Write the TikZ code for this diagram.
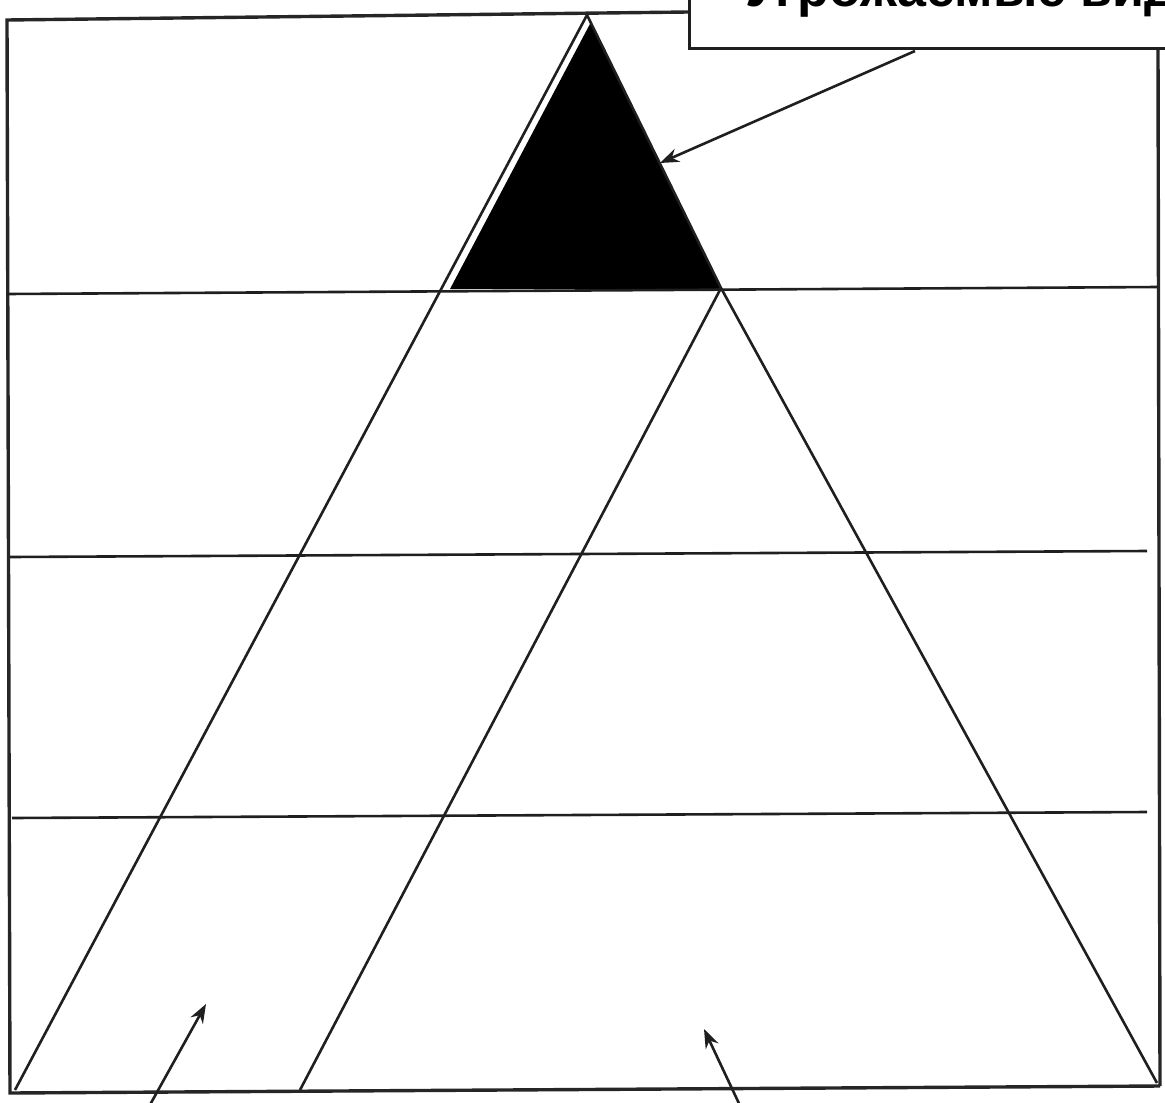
\documentclass[tikz,border=0pt]{standalone}
\usepackage{fontspec}
\newfontfamily\labfont{Liberation Sans}
\usetikzlibrary{arrows.meta}
\begin{document}
\begin{tikzpicture}[x=1pt,y=-1pt,
  framel/.style={line width=3.4pt, draw=black!85},
  gridl/.style={line width=2.6pt, draw=black!88},
  arr/.style={line width=2.6pt, draw=black!88, -{Stealth[length=19pt,width=14pt]}}]
\useasboundingbox (0,0) rectangle (1165,1103);
% coordinates
\coordinate (tl) at (7,20);
\coordinate (tm) at (688,12);
\coordinate (bl) at (10,1093);
\coordinate (br) at (1160,1086);
\coordinate (tr) at (1158,50);
\coordinate (apex) at (587,15);
\coordinate (pl) at (15,1090);
\coordinate (pr) at (1157,1083);
\coordinate (sr) at (721,288);
\coordinate (sl) at (300,1090);
% black top
\fill[black] (591,22) -- (450,289) -- (721,289) -- cycle;
% frame
\draw[framel] (tm) -- (tl) -- (bl) -- (br);
\draw[framel] (tr) -- (br);
% horizontal lines
\draw[gridl] (7,294) coordinate (h1l) -- (1158,287) coordinate (h1r);
\draw[gridl] (10,557) coordinate (h2l) -- (1147,551) coordinate (h2r);
\draw[gridl] (12,818) coordinate (h3l) -- (1147,812) coordinate (h3r);
% pyramid
\draw[gridl] (apex) -- (pl);
\draw[gridl] (apex) -- (sr) -- (pr);
\draw[gridl] (sr) -- (sl);
% label box
\node[draw=black!88, line width=3pt, fill=white, anchor=south west, minimum width=700pt, minimum height=120pt, inner sep=0pt] (labbox) at (688,50) {};
\node[anchor=base west, inner sep=0pt] (labtext) at (745,6) {\labfont\bfseries\fontsize{52}{60}\selectfont Угрожаемые виды};
% arrows
\coordinate (a0s) at (915,51);
\coordinate (a0e) at (660,163);
\draw[arr] (a0s) -- (a0e);
\coordinate (a1s) at (146,1112);
\coordinate (a1e) at (206,1004);
\draw[arr] (a1s) -- (a1e);
\coordinate (a2s) at (743,1112);
\coordinate (a2e) at (704,1029);
\draw[arr] (a2s) -- (a2e);
\end{tikzpicture}
\end{document}
